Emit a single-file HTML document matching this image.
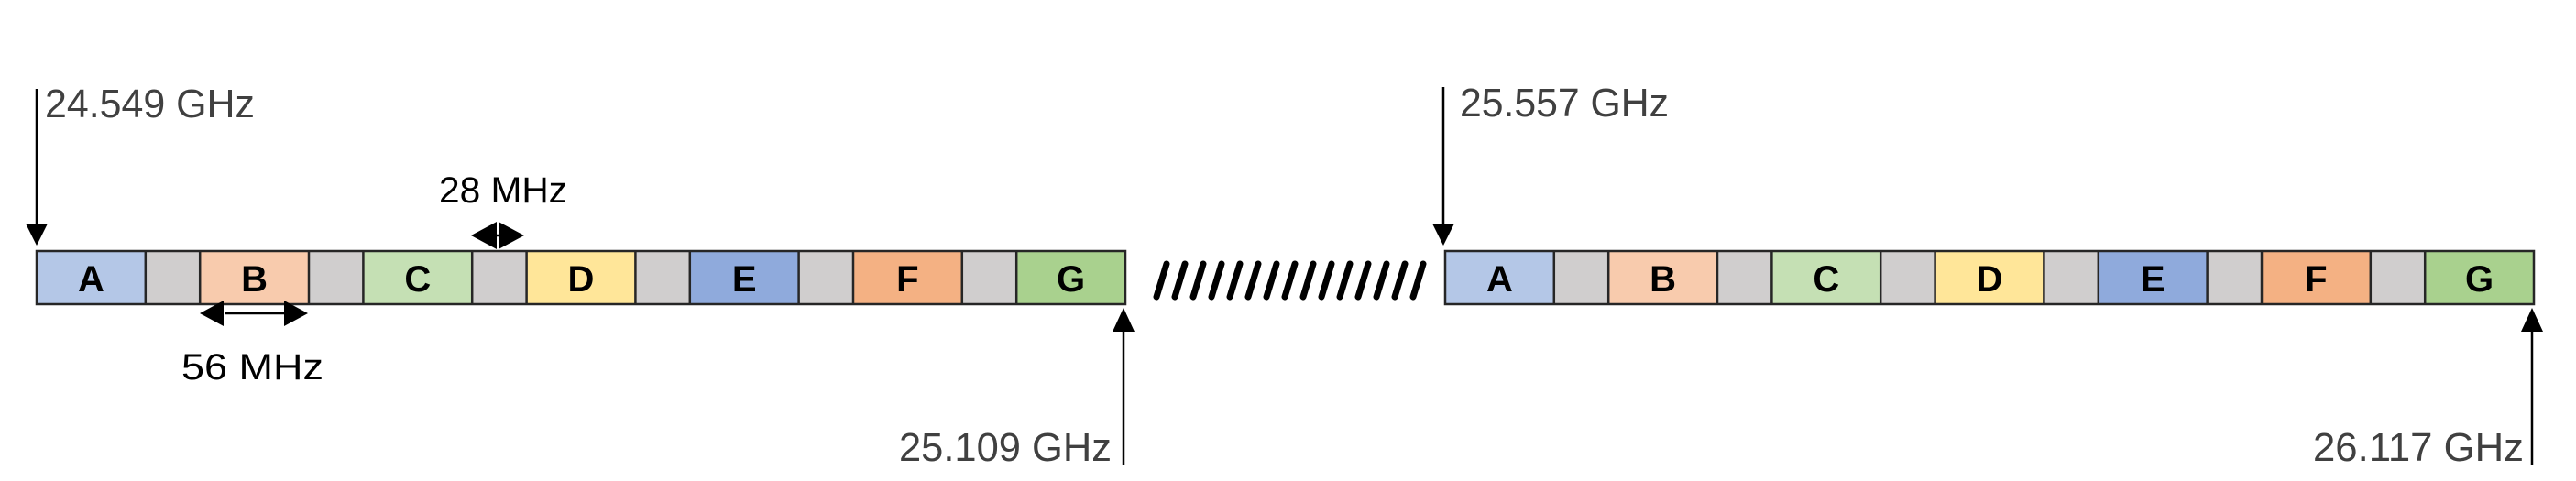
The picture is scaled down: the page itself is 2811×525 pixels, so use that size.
<!DOCTYPE html>
<html><head><meta charset="utf-8"><style>html,body{margin:0;padding:0;background:#fff}svg{display:block}</style></head>
<body>
<svg width="2811" height="525" viewBox="0 0 2811 525" xmlns="http://www.w3.org/2000/svg" font-family="Liberation Sans, sans-serif">
<defs>
<g id="bar">
<rect x="0" y="274" width="118.8" height="58" fill="#b4c7e7"/>
<rect x="118.8" y="274" width="59.4" height="58" fill="#d0cece"/>
<rect x="178.2" y="274" width="118.8" height="58" fill="#f8cbad"/>
<rect x="297" y="274" width="59.4" height="58" fill="#d0cece"/>
<rect x="356.4" y="274" width="118.8" height="58" fill="#c5e0b4"/>
<rect x="475.2" y="274" width="59.4" height="58" fill="#d0cece"/>
<rect x="534.6" y="274" width="118.8" height="58" fill="#ffe699"/>
<rect x="653.4" y="274" width="59.4" height="58" fill="#d0cece"/>
<rect x="712.8" y="274" width="118.8" height="58" fill="#8faadc"/>
<rect x="831.6" y="274" width="59.4" height="58" fill="#d0cece"/>
<rect x="891" y="274" width="118.8" height="58" fill="#f4b183"/>
<rect x="1009.8" y="274" width="59.4" height="58" fill="#d0cece"/>
<rect x="1069.2" y="274" width="118.8" height="58" fill="#a9d18e"/>
<g stroke="#262626" stroke-width="2.5" fill="none">
<rect x="0" y="274" width="1188" height="58"/>
<path d="M118.8 274V332M178.2 274V332M297 274V332M356.4 274V332M475.2 274V332M534.6 274V332M653.4 274V332M712.8 274V332M831.6 274V332M891 274V332M1009.8 274V332M1069.2 274V332"/>
</g>
<g font-weight="bold" font-size="40" text-anchor="middle" fill="#000">
<text x="59.4" y="318">A</text><text x="237.6" y="318">B</text><text x="415.8" y="318">C</text><text x="594" y="318">D</text><text x="772.2" y="318">E</text><text x="950.4" y="318">F</text><text x="1128.6" y="318">G</text>
</g>
</g>
</defs>
<use href="#bar" x="40"/>
<use href="#bar" x="1577"/>
<g stroke="#000" stroke-width="2.5">
<line x1="40" y1="97" x2="40" y2="246"/>
<line x1="1575" y1="95" x2="1575" y2="246"/>
<line x1="1226" y1="508" x2="1226" y2="360"/>
<line x1="2763" y1="508" x2="2763" y2="360"/>
<line x1="535" y1="257" x2="555" y2="257"/>
<line x1="245" y1="342" x2="312" y2="342"/>
</g>
<g fill="#000">
<polygon points="28,244 52,244 40,268"/>
<polygon points="1563,244 1587,244 1575,268"/>
<polygon points="1214,362 1238,362 1226,336"/>
<polygon points="2751,362 2775,362 2763,336"/>
<polygon points="514,257 542,242 542,272"/>
<polygon points="572,257 544,242 544,272"/>
<polygon points="218,342 244,328 244,356"/>
<polygon points="336,342 310,328 310,356"/>
</g>
<g stroke="#000" stroke-width="7" stroke-linecap="round">
<path d="M1262 324L1273 288M1282 324L1293 288M1302 324L1313 288M1322 324L1333 288M1342 324L1353 288M1362 324L1373 288M1382 324L1393 288M1402 324L1413 288M1422 324L1433 288M1442 324L1453 288M1462 324L1473 288M1482 324L1493 288M1502 324L1513 288M1522 324L1533 288M1542 324L1553 288"/>
</g>
<g font-size="44" fill="#404040">
<text x="49" y="128" textLength="229" lengthAdjust="spacingAndGlyphs">24.549 GHz</text>
<text x="1593" y="127" textLength="228" lengthAdjust="spacingAndGlyphs">25.557 GHz</text>
<text x="981" y="503" textLength="232" lengthAdjust="spacingAndGlyphs">25.109 GHz</text>
<text x="2524" y="503" textLength="230" lengthAdjust="spacingAndGlyphs">26.117 GHz</text>
</g>
<g font-size="40" fill="#000">
<text x="479" y="221" textLength="140" lengthAdjust="spacingAndGlyphs">28 MHz</text>
<text x="198" y="414" textLength="155" lengthAdjust="spacingAndGlyphs">56 MHz</text>
</g>
</svg>
</body></html>
